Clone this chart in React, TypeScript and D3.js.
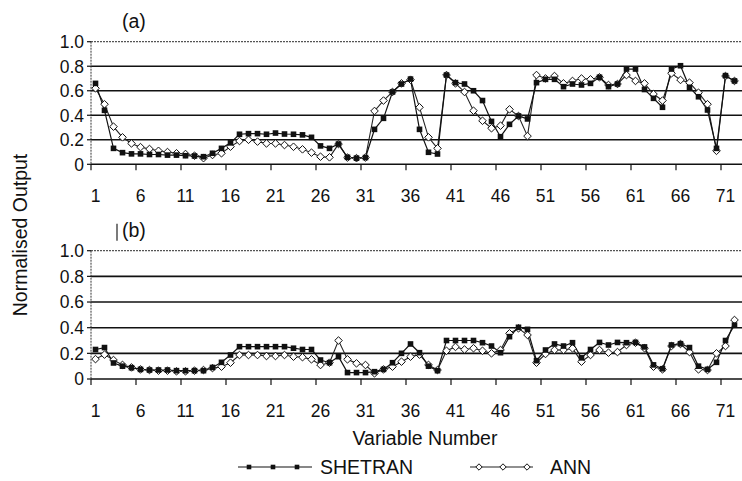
import React from 'react'
import * as d3 from 'd3'

// variable numbers along the x axis
const variables = d3.range(1, 73)
const xTickLabels = [1, 6, 11, 16, 21, 26, 31, 36, 41, 46, 51, 56, 61, 66, 71]
const yTicks = [0, 0.2, 0.4, 0.6, 0.8, 1.0]

// panel (a)
const shetranA = [
  0.66, 0.44, 0.13, 0.095, 0.085, 0.085, 0.08, 0.08, 0.075, 0.075,
  0.07, 0.068, 0.062, 0.09, 0.13, 0.175, 0.245, 0.25, 0.25, 0.245,
  0.255, 0.247, 0.245, 0.24, 0.22, 0.15, 0.13, 0.165, 0.057, 0.05,
  0.055, 0.285, 0.375, 0.59, 0.655, 0.695, 0.285, 0.098, 0.084, 0.728,
  0.666, 0.655, 0.6, 0.52, 0.35, 0.225, 0.326, 0.394, 0.37, 0.666,
  0.693, 0.693, 0.633, 0.655, 0.647, 0.66, 0.71, 0.633, 0.655, 0.777,
  0.777, 0.61, 0.538, 0.465, 0.777, 0.804, 0.628, 0.551, 0.443, 0.13,
  0.723, 0.68,
]
const annA = [
  0.62, 0.49, 0.307, 0.22, 0.17, 0.14, 0.125, 0.11, 0.1, 0.09,
  0.084, 0.07, 0.05, 0.076, 0.09, 0.144, 0.19, 0.2, 0.185, 0.17,
  0.17, 0.157, 0.143, 0.122, 0.095, 0.062, 0.057, 0.165, 0.055, 0.05,
  0.055, 0.435, 0.52, 0.59, 0.66, 0.69, 0.465, 0.22, 0.13, 0.728,
  0.66, 0.59, 0.437, 0.355, 0.294, 0.315, 0.448, 0.394, 0.23, 0.728,
  0.7, 0.72, 0.66, 0.68, 0.7, 0.693, 0.71, 0.647, 0.655, 0.728,
  0.68, 0.66, 0.573, 0.52, 0.742, 0.688, 0.666, 0.584, 0.49, 0.11,
  0.72, 0.68,
]

// panel (b)
const shetranB = [
  0.23, 0.245, 0.125, 0.1, 0.088, 0.075, 0.07, 0.07, 0.07, 0.065,
  0.065, 0.065, 0.065, 0.09, 0.13, 0.187, 0.252, 0.252, 0.252, 0.252,
  0.252, 0.252, 0.24, 0.23, 0.23, 0.148, 0.127, 0.174, 0.05, 0.05,
  0.05, 0.057, 0.075, 0.127, 0.2, 0.273, 0.205, 0.1, 0.065, 0.3,
  0.3, 0.3, 0.3, 0.283, 0.257, 0.205, 0.33, 0.403, 0.387, 0.143,
  0.226, 0.273, 0.257, 0.283, 0.165, 0.23, 0.285, 0.265, 0.285, 0.283,
  0.285, 0.25, 0.11, 0.08, 0.265, 0.275, 0.245, 0.1, 0.075, 0.13,
  0.3, 0.42,
]
const annB = [
  0.155, 0.19, 0.148, 0.11, 0.09, 0.075, 0.07, 0.065, 0.065, 0.06,
  0.06, 0.065, 0.07, 0.085, 0.096, 0.127, 0.187, 0.187, 0.187, 0.179,
  0.179, 0.187, 0.174, 0.17, 0.153, 0.109, 0.127, 0.3, 0.153, 0.122,
  0.109, 0.044, 0.075, 0.096, 0.135, 0.174, 0.19, 0.11, 0.07, 0.22,
  0.25, 0.23, 0.24, 0.22, 0.2, 0.226, 0.356, 0.395, 0.343, 0.127,
  0.195, 0.226, 0.226, 0.239, 0.135, 0.187, 0.226, 0.205, 0.21, 0.265,
  0.283, 0.24, 0.096, 0.075, 0.257, 0.273, 0.21, 0.075, 0.07, 0.2,
  0.257, 0.46,
]

const W = 742
const H = 481
const FONT = '"Liberation Sans", Arial, Helvetica, sans-serif'
const PLOT_LEFT = 91
const PLOT_RIGHT = 742

const x = d3.scaleBand<number>().domain(variables).range([91, 739])
const cx = (v: number) => (x(v) as number) + x.bandwidth() / 2

const diamond = (px: number, py: number, r: number) =>
  `M${px},${py - r}L${px + r},${py}L${px},${py + r}L${px - r},${py}Z`

function Panel({ label, top, bottom, shetran, ann, bar }: {
  label: string; top: number; bottom: number; shetran: number[]; ann: number[]; bar?: boolean
}) {
  const y = d3.scaleLinear().domain([0, 1]).range([bottom, top])
  const line = d3.line<number>()
    .x((d, i) => cx(variables[i]))
    .y(d => y(d))

  return (
    <g>
      {/* grid */}
      {yTicks.filter(t => t > 0).map(t => (
        <line key={t} x1={PLOT_LEFT} x2={PLOT_RIGHT} y1={y(t)} y2={y(t)}
          stroke={t === 1 ? '#555' : '#111'} strokeWidth={t === 1 ? 1.2 : 1.6}
          strokeDasharray={t === 1 ? '2 1' : undefined} />
      ))}
      {/* y axis */}
      <line x1={PLOT_LEFT} x2={PLOT_LEFT} y1={y(1)} y2={y(0)} stroke="#333" strokeWidth={1} strokeDasharray="2 1" />
      {yTicks.map(t => (
        <g key={t}>
          <line x1={PLOT_LEFT - 4} x2={PLOT_LEFT} y1={y(t)} y2={y(t)} stroke="#111" strokeWidth={1.2} />
          <text x={84} y={y(t)} dy="0.36em" textAnchor="end" fontSize={17.5} fontFamily={FONT} fill="#111">
            {t === 0 ? '0' : t.toFixed(1)}
          </text>
        </g>
      ))}
      {/* x axis */}
      <line x1={PLOT_LEFT} x2={PLOT_RIGHT} y1={y(0)} y2={y(0)} stroke="#111" strokeWidth={1.6} />
      {xTickLabels.map(v => (
        <g key={v}>
          <line x1={x(v)} x2={x(v)} y1={y(0)} y2={y(0) + 6} stroke="#111" strokeWidth={1.2} />
          <text x={cx(v)} y={y(0) + 38} textAnchor="middle" fontSize={17.5} fontFamily={FONT} fill="#111">{v}</text>
        </g>
      ))}
      {/* series */}
      <path d={line(ann) || ''} fill="none" stroke="#222" strokeWidth={1.1} />
      <path d={line(shetran) || ''} fill="none" stroke="#111" strokeWidth={1.2} />
      {ann.map((d, i) => (
        <path key={'a' + i} d={diamond(cx(variables[i]), y(d), 3.8)} fill="#fff" stroke="#111" strokeWidth={1} />
      ))}
      {shetran.map((d, i) => (
        <rect key={'s' + i} x={cx(variables[i]) - 2.8} y={y(d) - 2.8} width={5.6} height={5.6} fill="#111" />
      ))}
      {bar && <line x1={117} x2={117} y1={top - 27} y2={top - 10} stroke="#222" strokeWidth={1.2} />}
      <text x={122} y={top - 14} fontSize={19.5} fontFamily={FONT} fill="#111">{label}</text>
    </g>
  )
}

export default function App() {
  const legendY = 467
  return (
    <svg width={W} height={H} style={{ position: 'absolute', left: 0, top: 0, background: '#fff' }}>
      <rect width={W} height={H} fill="#fff" />
      <Panel label="(a)" top={41.7} bottom={164.3} shetran={shetranA} ann={annA} />
      <Panel label="(b)" top={250.7} bottom={379} shetran={shetranB} ann={annB} bar />

      <text transform={`translate(27,235) rotate(-90)`} textAnchor="middle" fontSize={19.5} fontFamily={FONT} fill="#111">
        Normalised Output
      </text>
      <text x={425} y={445} textAnchor="middle" fontSize={19.5} fontFamily={FONT} fill="#111">Variable Number</text>

      {/* legend */}
      <line x1={238} x2={312} y1={legendY} y2={legendY} stroke="#111" strokeWidth={1.2} />
      {[249, 273, 297].map(px => (
        <rect key={px} x={px - 2.3} y={legendY - 2.3} width={4.6} height={4.6} fill="#111" />
      ))}
      <text x={320} y={legendY + 7} fontSize={19.5} fontFamily={FONT} fill="#111">SHETRAN</text>
      <line x1={470} x2={533} y1={legendY} y2={legendY} stroke="#222" strokeWidth={1.1} />
      {[479, 503, 527].map(px => (
        <path key={px} d={diamond(px, legendY, 3.2)} fill="#fff" stroke="#111" strokeWidth={1} />
      ))}
      <text x={550} y={legendY + 7} fontSize={19.5} fontFamily={FONT} fill="#111">ANN</text>
    </svg>
  )
}
